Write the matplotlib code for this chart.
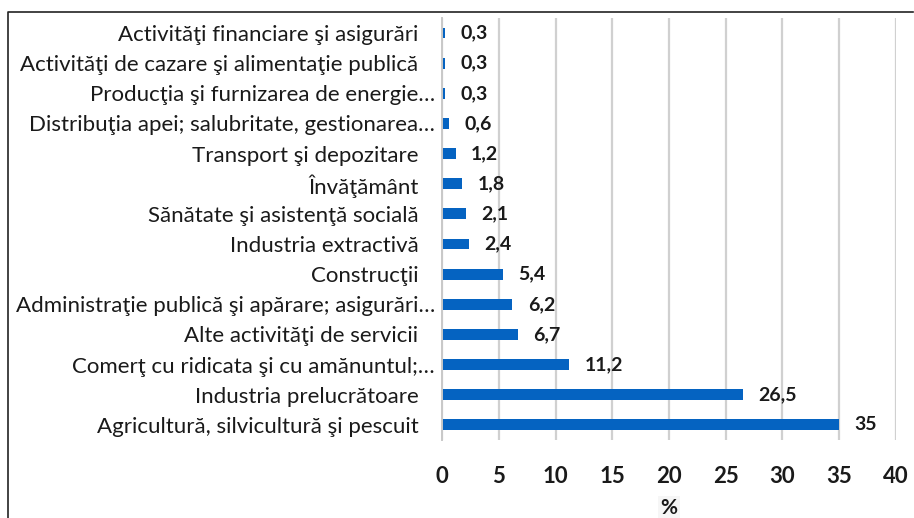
import matplotlib.pyplot as plt
from matplotlib.lines import Line2D
from matplotlib.transforms import ScaledTranslation

plt.rcParams['font.family'] = ['Lato', 'DejaVu Sans']

# ====== Date ======
categories = [
    "Agricultură, silvicultură şi pescuit",
    "Industria prelucrătoare",
    "Comerţ cu ridicata şi cu amănuntul;…",
    "Alte activităţi de servicii",
    "Administraţie publică şi apărare; asigurări…",
    "Construcţii",
    "Industria extractivă",
    "Sănătate şi asistenţă socială",
    "Învăţământ",
    "Transport şi depozitare",
    "Distribuţia apei; salubritate, gestionarea…",
    "Producţia şi furnizarea de energie…",
    "Activităţi de cazare şi alimentaţie publică",
    "Activităţi financiare şi asigurări",
]
values = [35, 26.5, 11.2, 6.7, 6.2, 5.4, 2.4, 2.1, 1.8, 1.2, 0.6, 0.3, 0.3, 0.3]
x_ticks = [0, 5, 10, 15, 20, 25, 30, 35, 40]

fig = plt.figure(figsize=(9.14, 5.18), dpi=100)
ax = fig.add_axes([0.4836, 0.1506, 0.4967, 0.8147])

ypos = list(range(len(categories)))
ax.barh(ypos, values, height=0.36, color='#0563c1', zorder=3)

for y, v in zip(ypos, values):
    txt = f"{v:g}".replace('.', ',')
    ax.annotate(txt, (v, y), xytext=(11, 0), textcoords='offset points',
                ha='left', va='center', fontsize=14, fontweight='bold',
                color='#1a1a1a')

ax.set_xlim(0, 40)
ax.set_ylim(-0.5, len(categories) - 0.5)
ax.set_xticks(x_ticks)
ax.set_xticklabels([str(t) for t in x_ticks], fontsize=16, fontweight='bold',
                   color='#1a1a1a')
ax.set_yticks(ypos)
ax.set_yticklabels(categories, fontsize=16, color='#1a1a1a')
ax.tick_params(axis='x', length=0, pad=19)
ax.tick_params(axis='y', length=0, pad=17)

# etichetele trunchiate (cu …) ajung mai aproape de axa
for lbl in ax.get_yticklabels():
    if lbl.get_text().endswith('…'):
        lbl.set_transform(lbl.get_transform() + ScaledTranslation(12 / 72, 0, fig.dpi_scale_trans))

ax.grid(axis='x', color='#d0d0d0', linewidth=1.6, zorder=0)
for s in ['top', 'right', 'bottom']:
    ax.spines[s].set_visible(False)
ax.spines['left'].set_color('#c8c8c8')
ax.spines['left'].set_linewidth(1.4)
ax.spines['left'].set_zorder(4)

ax.set_xlabel('%', fontsize=15, fontweight='bold', color='#1a1a1a', labelpad=8,
              bbox=dict(facecolor='#f6f6f6', edgecolor='none', pad=2))

# cadru exterior
W, H = 914, 518
fig.add_artist(Line2D([8 / W, 8 / W, 913 / W], [0, 1 - 12 / H, 1 - 12 / H],
                      color='#222222', linewidth=1.2, transform=fig.transFigure))

fig.savefig('out.png', dpi=100)
